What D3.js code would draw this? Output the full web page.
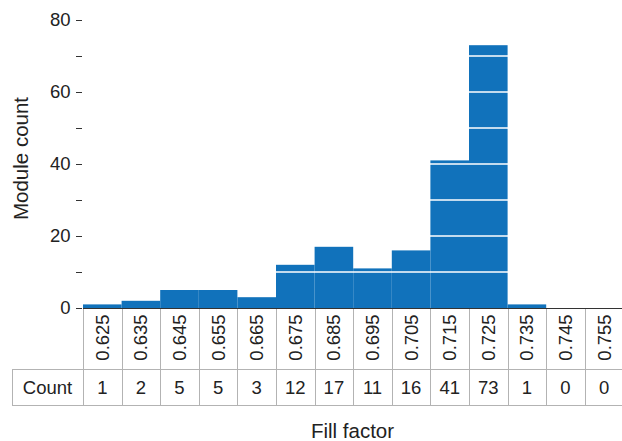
<!DOCTYPE html>
<html>
<head>
<meta charset="utf-8">
<script src="https://cdn.jsdelivr.net/npm/d3@7"></script>
<style>
  html, body { margin: 0; padding: 0; background: #fff; }
  svg { display: block; font-family: "Liberation Sans", Arial, Helvetica, sans-serif; }
</style>
</head>
<body>
<svg id="chart" width="622" height="441"></svg>
<script>
// Histogram of module fill factor, with a count table under the bins
const bins = ["0.625", "0.635", "0.645", "0.655", "0.665", "0.675", "0.685",
              "0.695", "0.705", "0.715", "0.725", "0.735", "0.745", "0.755"];
const counts = [1, 2, 5, 5, 3, 12, 17, 11, 16, 41, 73, 1, 0, 0];
const yTicks = [0, 20, 40, 60, 80];
const yMinorTicks = [10, 30, 50, 70];
const gridValues = [10, 20, 30, 40, 50, 60, 70];

const svg = d3.select("#chart");
const barColor = "#1172bb";
const textColor = "#222";
const tableLine = "#b3b3b3";
const labelSize = 18.5;
const titleSize = 20.5;

const left = 83, colW = 38.6;
const x = d3.scaleBand().domain(bins).range([left, left + colW * bins.length]).padding(0);
const y = d3.scaleLinear().domain([0, 80]).range([308, 20]);

// bars
svg.append("g").selectAll("rect")
  .data(bins.map((b, i) => ({ bin: b, n: counts[i] })))
  .join("rect")
  .attr("x", d => x(d.bin))
  .attr("width", x.bandwidth())
  .attr("y", d => y(d.n))
  .attr("height", d => y(0) - y(d.n))
  .attr("fill", barColor);

// white grid lines sitting on top of the bars
svg.append("g").selectAll("line")
  .data(gridValues)
  .join("line")
  .attr("x1", left).attr("x2", 622)
  .attr("y1", d => y(d)).attr("y2", d => y(d))
  .attr("stroke", "#fff").attr("stroke-width", 1.6);

// y axis: short tick dashes, labels on major ticks only
const yAxis = svg.append("g");
yAxis.selectAll("line.tick")
  .data(yTicks.concat(yMinorTicks))
  .join("line")
  .attr("class", "tick")
  .attr("x1", 76).attr("x2", 82)
  .attr("y1", d => Math.round(y(d)) + 0.5).attr("y2", d => Math.round(y(d)) + 0.5)
  .attr("stroke", "#333").attr("stroke-width", 1);
yAxis.selectAll("text")
  .data(yTicks)
  .join("text")
  .attr("x", 70.5).attr("y", d => y(d))
  .attr("dy", "0.35em")
  .attr("text-anchor", "end")
  .attr("font-size", labelSize)
  .attr("fill", textColor)
  .text(d => d);

svg.append("text")
  .attr("transform", "translate(28,158.5) rotate(-90)")
  .attr("text-anchor", "middle")
  .attr("font-size", titleSize)
  .attr("fill", textColor)
  .text("Module count");

// table under the plot
const tTop = 308, tMid = 369, tBot = 405;
const table = svg.append("g");
const right = left + colW * bins.length;
table.append("line").attr("x1", 12).attr("x2", right).attr("y1", tMid + 0.5).attr("y2", tMid + 0.5)
  .attr("stroke", tableLine);
table.append("line").attr("x1", 12).attr("x2", right).attr("y1", tBot + 0.5).attr("y2", tBot + 0.5)
  .attr("stroke", tableLine);
table.append("line").attr("x1", 12.5).attr("x2", 12.5).attr("y1", tMid).attr("y2", tBot)
  .attr("stroke", tableLine);
table.selectAll("line.col")
  .data(bins.concat(["end"]))
  .join("line")
  .attr("class", "col")
  .attr("x1", (d, i) => Math.round(left + i * colW) + 0.5)
  .attr("x2", (d, i) => Math.round(left + i * colW) + 0.5)
  .attr("y1", tTop).attr("y2", tBot)
  .attr("stroke", tableLine);

// axis baseline
svg.append("line").attr("x1", left).attr("x2", 622).attr("y1", 308.5).attr("y2", 308.5)
  .attr("stroke", "#333").attr("stroke-width", 1.2);

// rotated bin labels
table.selectAll("text.bin")
  .data(bins)
  .join("text")
  .attr("class", "bin")
  .attr("transform", d => `translate(${x(d) + x.bandwidth() / 2},${337.5}) rotate(-90)`)
  .attr("text-anchor", "middle")
  .attr("dy", "0.35em")
  .attr("font-size", labelSize)
  .attr("fill", textColor)
  .text(d => d);

// count row
table.append("text")
  .attr("x", 47.5).attr("y", 387.5).attr("dy", "0.35em")
  .attr("text-anchor", "middle").attr("font-size", labelSize).attr("fill", textColor)
  .text("Count");
table.selectAll("text.cnt")
  .data(bins.map((b, i) => ({ bin: b, n: counts[i] })))
  .join("text")
  .attr("class", "cnt")
  .attr("x", d => x(d.bin) + x.bandwidth() / 2)
  .attr("y", 387.5).attr("dy", "0.35em")
  .attr("text-anchor", "middle").attr("font-size", labelSize).attr("fill", textColor)
  .text(d => d.n);

svg.append("text")
  .attr("x", (left + 622) / 2).attr("y", 438)
  .attr("text-anchor", "middle")
  .attr("font-size", titleSize)
  .attr("fill", textColor)
  .text("Fill factor");
</script>
</body>
</html>
